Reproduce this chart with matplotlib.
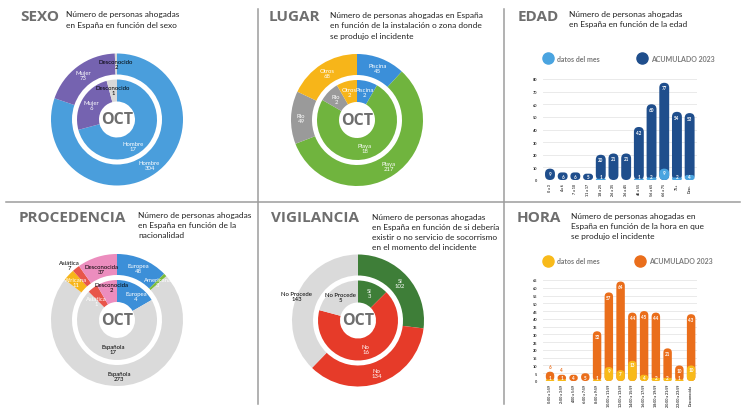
import numpy as np
import matplotlib
matplotlib.use('Agg')
import matplotlib.pyplot as plt
from matplotlib.patches import FancyBboxPatch
from matplotlib.lines import Line2D

plt.rcParams['font.family'] = ['Lato', 'DejaVu Sans']

W, H = 750, 410

# ---------------- datos ----------------
sexo_cat = ['Hombre', 'Mujer', 'Desconocido']
sexo_acum = [304, 73, 2]
sexo_mes = [17, 6, 1]

lugar_cat = ['Piscina', 'Playa', 'Rio', 'Otros']
lugar_acum = [45, 217, 49, 68]
lugar_mes = [2, 18, 2, 2]

proc_cat = ['Europea', 'Americana', 'Española', 'Africana', 'Asiática', 'Desconocida']
proc_acum = [48, 3, 273, 11, 7, 37]
proc_mes = [4, 0, 17, 0, 1, 2]

vig_cat = ['Sí', 'No', 'No Procede']
vig_acum = [102, 134, 143]
vig_mes = [3, 16, 5]

edad_cat = ['0 a 3', '4 a 6', '7 a 10', '11 a 17', '18 a 25', '26 a 35', '36 a 45',
            '46 a 55', '56 a 65', '66 a 75', '75+', 'Desc.']
edad_acum = [9, 6, 6, 5, 20, 21, 21, 42, 60, 77, 54, 53]
edad_mes = [0, 0, 0, 0, 1, 0, 0, 1, 2, 9, 2, 4]

hora_cat = ['0:00 a 1:59', '2:00 a 3:59', '4:00 a 5:59', '6:00 a 7:59', '8:00 a 9:59',
            '10:00 a 11:59', '12:00 a 13:59', '14:00 a 15:59', '16:00 a 17:59',
            '18:00 a 19:59', '20:00 a 21:59', '22:00 a 23:59', 'Desconocida']
hora_acum = [6, 4, 4, 5, 32, 57, 64, 44, 45, 44, 21, 10, 43]
hora_mes = [1, 1, 0, 0, 1, 9, 7, 13, 4, 2, 2, 1, 10]

GRIS_T = '#6e6e6e'

fig = plt.figure(figsize=(7.5, 4.1), dpi=100)
fig.patch.set_facecolor('white')


def fx(x):
    return x / W


def fy(y):
    return 1 - y / H


# separadores
for xs, ys in [([258, 258], [10, 405]), ([504, 504], [10, 405]), ([6, 740], [203, 203])]:
    fig.add_artist(Line2D([fx(v) for v in xs], [fy(v) for v in ys], color='#9c9c9c', lw=1.1))


def titulo(x, y, txt, sx, sy, sub):
    fig.text(fx(x), fy(y), txt, fontsize=11, fontweight='bold', color=GRIS_T,
             family='Open Sans', va='center', ha='left')
    fig.text(fx(sx), fy(sy), sub, fontsize=6, color='#222222', va='center', ha='left',
             linespacing=1.55)


titulo(20, 17, 'SEXO', 66, 20, 'Número de personas ahogadas\nen España en función del sexo')
titulo(269, 17, 'LUGAR', 330, 26, 'Número de personas ahogadas en España\n'
       'en función de la instalación o zona donde\nse produjo el incidente')
titulo(518, 17, 'EDAD', 569, 19.5, 'Número de personas ahogadas\nen España en función de la edad')
titulo(19, 218, 'PROCEDENCIA', 138, 225.5, 'Número de personas ahogadas\n'
       'en España en función de la\nnacionalidad')
titulo(271, 218, 'VIGILANCIA', 372, 232.5, 'Número de personas ahogadas\n'
       'en España en función de si debería\nexistir o no servicio de socorrismo\n'
       'en el momento del incidente')
titulo(517, 218, 'HORA', 571, 226.5, 'Número de personas ahogadas en\n'
       'España en función de la hora en que\nse produjo el incidente')


def donut(cx, cy, cats, acum, mes, colores, tc_out, tc_in, pos_out=None, pos_in=None, r=66):
    ax = fig.add_axes([fx(cx - r), fy(cy + r), 2 * r / W, 2 * r / H])
    w1, _ = ax.pie(acum, radius=1, colors=colores, startangle=90, counterclock=False,
                   wedgeprops=dict(width=21 / r, linewidth=0))
    w2, _ = ax.pie(mes, radius=40 / r, colors=colores, startangle=90, counterclock=False,
                   wedgeprops=dict(width=22 / r, linewidth=0))
    ax.set_xlim(-1, 1)
    ax.set_ylim(-1, 1)
    for wedges, vals, tcs, rl, pos in ((w1, acum, tc_out, 56, pos_out or {}),
                                       (w2, mes, tc_in, 29.5, pos_in or {})):
        for i, (w, v) in enumerate(zip(wedges, vals)):
            if v == 0:
                continue
            rr, ang = pos.get(i, (rl, (w.theta1 + w.theta2) / 2))
            a = np.deg2rad(ang)
            ax.text(rr / r * np.cos(a), rr / r * np.sin(a), f'{cats[i]}\n{v}',
                    ha='center', va='center', fontsize=4.3, color=tcs[i], linespacing=1.0)
    ax.text(0, 0, 'OCT', ha='center', va='center', fontsize=11.5, fontweight='bold',
            color=GRIS_T, family='Open Sans')


donut(117, 120.5, sexo_cat, sexo_acum, sexo_mes, ['#4a9edc', '#7563b0', '#d9d9d9'],
      ['white', 'white', 'black'], ['white', 'white', 'black'], pos_in={0: (31, -58)})
donut(357, 121, lugar_cat, lugar_acum, lugar_mes, ['#3b8fd9', '#70b43e', '#9a9a9a', '#f7b519'],
      ['white'] * 4, ['white'] * 4)
donut(117, 321, proc_cat, proc_acum, proc_mes,
      ['#3c8fd8', '#7cbb3d', '#dadada', '#f7b51a', '#e8554a', '#ec8dbe'],
      ['white', 'white', 'black', 'white', 'black', 'black'],
      ['white', 'white', 'black', 'white', 'white', 'black'],
      pos_out={4: (73, 131), 5: (53, 107)},
      pos_in={5: (34, 100), 4: (28, 137), 0: (31, 52)})
donut(358, 321.5, vig_cat, vig_acum, vig_mes, ['#3e7e38', '#e63b29', '#dadada'],
      ['white', 'white', 'black'], ['white', 'white', 'black'], pos_out={2: (66, 158)})


def pill(ax, bars, asp):
    for b in bars:
        x, y, w, h = b.get_x(), b.get_y(), b.get_width(), b.get_height()
        b.set_visible(False)
        if h <= 0:
            continue
        rs = min(w / 2, h / asp / 2)
        ax.add_patch(FancyBboxPatch((x, y), w, h, boxstyle=f'round,pad=0,rounding_size={rs}',
                                    mutation_aspect=asp, fc=b.get_facecolor(), lw=0))


def barras(x0, x1, ytop, ybot, cats, acum, mes, c_acum, c_mes, ymax, ystep, xl, bw):
    ax = fig.add_axes([fx(x0), fy(ybot), (x1 - x0) / W, (ybot - ytop) / H])
    x = np.arange(len(cats))
    ax.set_xlim(*xl)
    ax.set_ylim(0, ymax)
    b1 = ax.bar(x, acum, width=bw, color=c_acum)
    b2 = ax.bar(x, mes, width=bw, color=c_mes)
    xpp = (xl[1] - xl[0]) / (x1 - x0)
    ypp = ymax / (ybot - ytop)
    asp = ypp / xpp
    pill(ax, b1, asp)
    pill(ax, b2, asp)
    off = 5.2 * ypp
    for i, (a, m) in enumerate(zip(acum, mes)):
        if m > 0 and a < 8:
            ax.text(i, a + 3 * ypp, str(a), ha='center', va='bottom', fontsize=3.3,
                    fontweight='bold', color=c_acum)
        else:
            ax.text(i, max(a - off, a / 2), str(a), ha='center', va='center', fontsize=3.3,
                    fontweight='bold', color='white')
        if m > 0:
            ax.text(i, max(m - off + 1.5 * ypp, 3.2 * ypp), str(m), ha='center', va='center',
                    fontsize=3.3, fontweight='bold', color='white')
    ax.set_yticks(np.arange(0, ymax + 1, ystep))
    ax.set_xticks(x)
    ax.set_xticklabels(cats, rotation=90, fontsize=2.6, fontweight='bold', color='#333333')
    ax.tick_params(axis='y', labelsize=2.8, length=0, pad=4, labelcolor='#333333')
    ax.tick_params(axis='x', length=0, pad=2)
    for t in ax.get_yticklabels():
        t.set_fontweight('bold')
    for s in ax.spines.values():
        s.set_visible(False)
    ax.yaxis.grid(True, color='#e6e6e6', lw=0.6)
    ax.set_axisbelow(True)
    ax.set_facecolor('none')


def leyenda(y, c_mes, c_acum, x2):
    for xc, c, txt in ((548, c_mes, 'datos del mes'), (x2, c_acum, 'ACUMULADO 2023')):
        fig.add_artist(Line2D([fx(xc)], [fy(y)], marker='o', ms=8, color=c, ls=''))
        fig.text(fx(xc + 9), fy(y), txt, fontsize=5, fontweight='bold', color='#7a7a7a',
                 va='center', ha='left')


leyenda(59, '#4aa4e0', '#1f4e8c', 642)
barras(543, 697, 80, 181, edad_cat, edad_acum, edad_mes, '#1f4e8c', '#4aa4e0', 80, 10,
       (-0.55, 11.58), 0.78)
leyenda(262, '#f8ba1a', '#ea6e1b', 640)
barras(543, 697, 281, 382, hora_cat, hora_acum, hora_mes, '#ea6e1b', '#f8ba1a', 65, 5,
       (-0.6, 12.5), 0.72)

fig.savefig('out.png', dpi=100, facecolor='white')
